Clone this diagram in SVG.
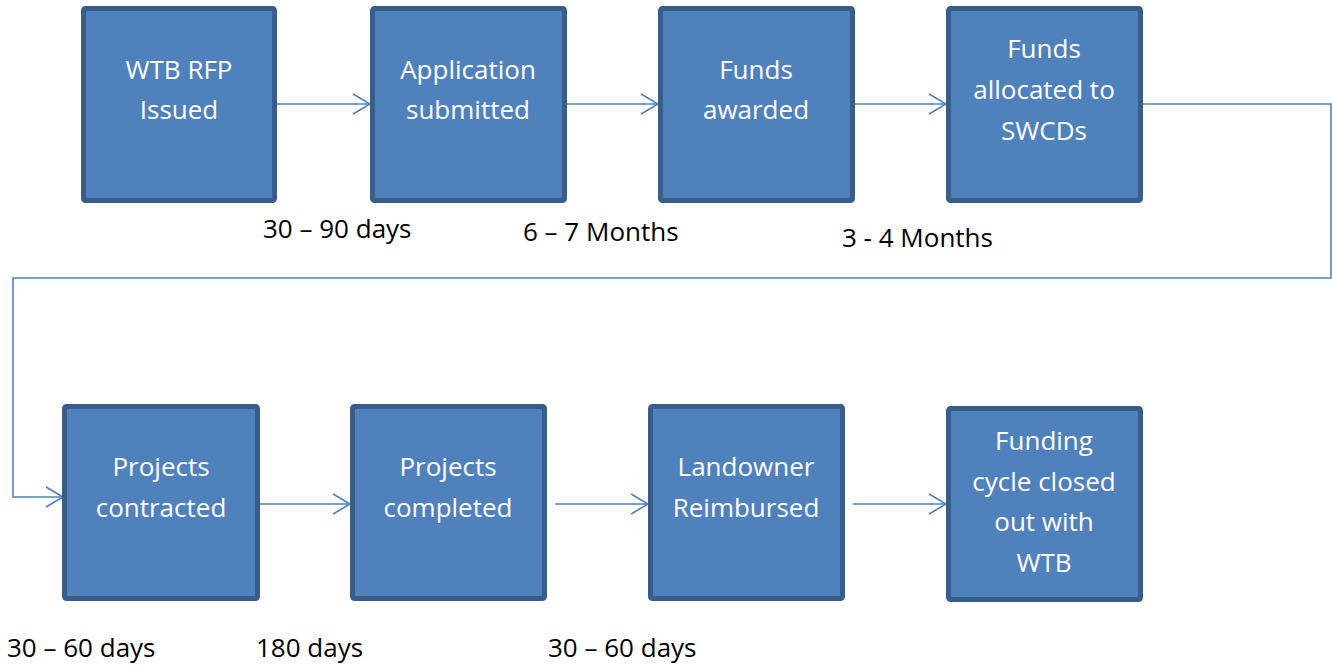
<svg xmlns="http://www.w3.org/2000/svg" width="1332" height="665" viewBox="0 0 1332 665">
<style>
.box{fill:#4f81bd;stroke:#385d8a;stroke-width:5}
.t{font-family:"Open Sans","Liberation Sans",sans-serif;font-size:26px;fill:#ffffff;text-anchor:middle}
.l{font-family:"Open Sans","Liberation Sans",sans-serif;font-size:26px;fill:#000000}
.c{fill:none;stroke:#4f81bd;stroke-width:1.6}
</style>
<defs>
<marker id="ah" markerWidth="20" markerHeight="24" refX="18" refY="12" orient="auto" markerUnits="userSpaceOnUse">
<path d="M1,2 L18,12 L1,22" fill="none" stroke="#4f81bd" stroke-width="1.6"/>
</marker>
</defs>
<rect width="1332" height="665" fill="#ffffff"/>
<g id="connectors">
<line class="c" x1="277" y1="104" x2="370" y2="104" marker-end="url(#ah)"/>
<line class="c" x1="567" y1="104" x2="658" y2="104" marker-end="url(#ah)"/>
<line class="c" x1="855" y1="104" x2="946" y2="104" marker-end="url(#ah)"/>
<polyline class="c" points="1143,104 1331,104 1331,278 13,278 13,497 63,497" marker-end="url(#ah)"/>
<line class="c" x1="260" y1="504" x2="350" y2="504" marker-end="url(#ah)"/>
<line class="c" x1="555" y1="504" x2="648" y2="504" marker-end="url(#ah)"/>
<line class="c" x1="853" y1="504" x2="946" y2="504" marker-end="url(#ah)"/>
</g>
<g id="n1"><rect class="box" x="83.5" y="8.5" width="191" height="192" rx="2"/><text class="t" x="179" y="79">WTB RFP</text><text class="t" x="179" y="119">Issued</text></g>
<g id="n2"><rect class="box" x="372.5" y="8.5" width="192" height="192" rx="2"/><text class="t" x="468" y="79">Application</text><text class="t" x="468" y="119">submitted</text></g>
<g id="n3"><rect class="box" x="660.5" y="8.5" width="192" height="192" rx="2"/><text class="t" x="756" y="79">Funds</text><text class="t" x="756" y="119">awarded</text></g>
<g id="n4"><rect class="box" x="948.5" y="8.5" width="192" height="192" rx="2"/><text class="t" x="1044" y="58">Funds</text><text class="t" x="1044" y="99">allocated to</text><text class="t" x="1044" y="140">SWCDs</text></g>
<g id="n5"><rect class="box" x="64.5" y="406.5" width="193" height="192" rx="2"/><text class="t" x="161" y="476">Projects</text><text class="t" x="161" y="517">contracted</text></g>
<g id="n6"><rect class="box" x="352.5" y="406.5" width="192" height="192" rx="2"/><text class="t" x="448" y="476">Projects</text><text class="t" x="448" y="517">completed</text></g>
<g id="n7"><rect class="box" x="650.5" y="406.5" width="192" height="192" rx="2"/><text class="t" x="746" y="476">Landowner</text><text class="t" x="746" y="517">Reimbursed</text></g>
<g id="n8"><rect class="box" x="948.5" y="408.5" width="192" height="191" rx="2"/><text class="t" x="1044" y="450">Funding</text><text class="t" x="1044" y="491">cycle closed</text><text class="t" x="1044" y="531">out with</text><text class="t" x="1044" y="572">WTB</text></g>
<g id="labels">
<text class="l" x="263" y="238">30 – 90 days</text>
<text class="l" x="523" y="241">6 – 7 Months</text>
<text class="l" x="842" y="247">3 - 4 Months</text>
<text class="l" x="7" y="657">30 – 60 days</text>
<text class="l" x="256" y="657">180 days</text>
<text class="l" x="548" y="657">30 – 60 days</text>
</g>
</svg>
